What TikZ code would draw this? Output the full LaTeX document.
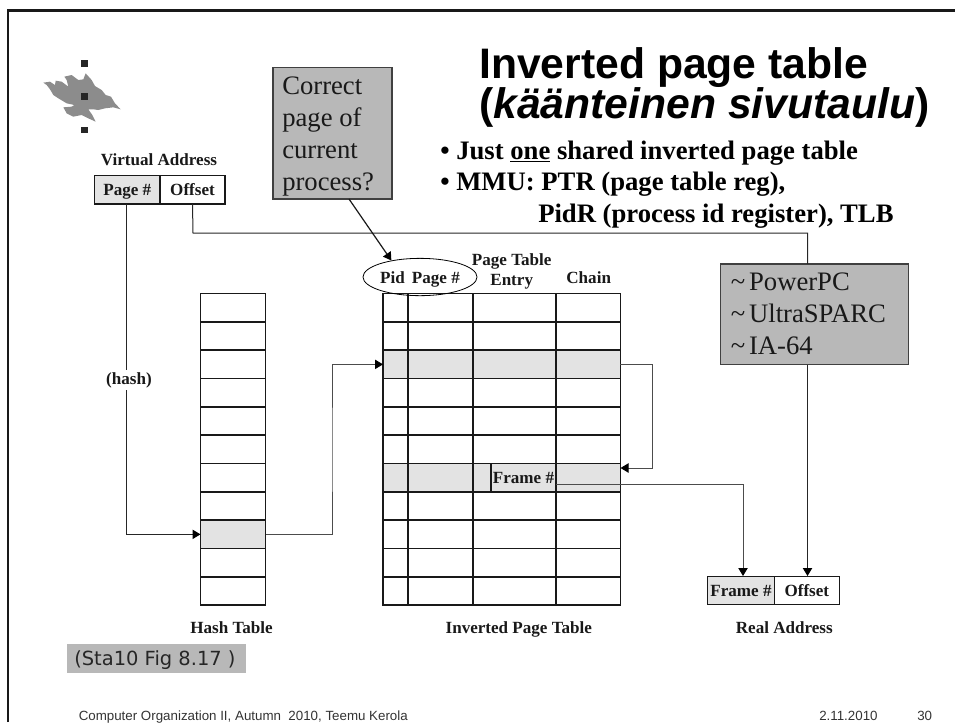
\documentclass[tikz,border=0pt]{standalone}
\usepackage{fontspec}
\setmainfont{Liberation Serif}
\newfontfamily\arialfont{Liberation Sans}
\newfontfamily\stafont{DejaVu Sans}
\usetikzlibrary{arrows.meta,shapes.geometric}
\definecolor{shade}{HTML}{E3E3E3}
\definecolor{notegray}{HTML}{B8B8B8}
\definecolor{logogray}{HTML}{8C8C8C}
\definecolor{logodark}{HTML}{262626}
\tikzset{
  tabline/.style={line width=1.2pt, black!90},
  cell/.style={draw, tabline, inner sep=0pt, outer sep=0pt, minimum height=21.25pt, text height=10pt, text depth=1pt},
  small/.style={font=\fontsize{12.8}{15}\selectfont\bfseries, inner sep=0pt, text=black!90},
  label/.style={small, anchor=base},
  bullet/.style={font=\fontsize{20}{24}\selectfont\bfseries, inner sep=0pt, anchor=base west},
  note/.style={draw=black!75, line width=1.1pt, fill=notegray, inner sep=0pt, outer sep=0pt},
  notetext/.style={font=\fontsize{20}{24}\selectfont, align=left, inner sep=0pt, anchor=base west, text=black!90},
  thinlink/.style={line width=0.75pt, black!85},
  greylink/.style={line width=0.75pt, black!70},
  tip/.style={-{Triangle[length=6pt,width=7pt,color=black]}},
  foot/.style={font=\arialfont\fontsize{10}{11}\selectfont, inner sep=0pt, anchor=base west, text=black!80},
}
\newcommand{\cpumark}{\textasciitilde\hspace{0.14em}}
\begin{document}
\begin{tikzpicture}[x=0.75pt,y=-0.75pt]
  \useasboundingbox (0,0) rectangle (955,722);

  % Slide frame
  \draw[line width=2pt, black!90] (8,722) -- (8,10.5) -- (955,10.5);

  % Logo
  \begin{scope}[shift={(35,50)},x=0.25pt,y=-0.25pt]
    \fill[logogray] (25,98) -- (45,95) -- (60,105) -- (62,92) -- (80,95) -- (100,110) -- (95,90)
      -- (88,80) -- (110,75) -- (130,90) -- (145,88) -- (152,70) -- (170,90) -- (180,108)
      -- (200,120) -- (212,135) -- (228,140) -- (240,160) -- (257,178) -- (235,172) -- (210,175)
      -- (190,180) -- (175,178) -- (160,178) -- (172,195) -- (182,215) -- (160,205) -- (140,195)
      -- (115,200) -- (95,190) -- (85,172) -- (110,170) -- (118,165) -- (95,160) -- (70,145)
      -- (55,135) -- (45,118) -- (35,105) -- cycle;
    \foreach \y in {40,140,240}
      \fill[logodark] (138,\y-10) rectangle (158,\y+10);
  \end{scope}

  % Title and bullets
  \node[font=\arialfont\fontsize{32}{36}\selectfont\bfseries, inner sep=0pt, anchor=base west] (title1) at (479,78) {Inverted page table};
  \node[font=\arialfont\fontsize{32}{36}\selectfont\bfseries, inner sep=0pt, anchor=base west] (title2) at (479,118) {(\textit{k\"a\"anteinen sivutaulu})};
  \node[bullet] (line1) at (440,159) {\textbullet\ Just \underline{one} shared inverted page table};
  \node[bullet] (line2) at (440,190.5) {\textbullet\ MMU: PTR (page table reg),};
  \node[bullet] (line3) at (538,222.5) {PidR (process id register), TLB};

  % Virtual address
  \node[label] (virtual) at (159,165) {Virtual Address};
  \node[cell, small, fill=shade, minimum width=49.1pt] (page) at (127.3,189.75) {Page \#};
  \node[cell, small, minimum width=48.75pt] (offset) at (192.5,189.75) {Offset};

  % Hash table
  \foreach \i/\c in {0/white,1/white,2/white,3/white,4/white,5/white,6/white,7/white,8/shade,9/white,10/white}
    \node[cell, fill=\c, minimum width=48.75pt] (hash\i) at (233,307.7+\i*28.33) {};
  \node[label] (hashlabel) at (231.5,633) {Hash Table};

  % Inverted page table
  \foreach \i/\c in {0/white,1/white,2/shade,3/white,4/white,5/white,6/shade,7/white,8/white,9/white,10/white}
    \node[cell, fill=\c, minimum width=178.1pt] (row\i) at (501.75,307.7+\i*28.33) {};
  \foreach \x in {408,473,556}
    \draw[tabline] (\x,293.5) -- (\x,605);
  \node[small, minimum width=48.75pt, minimum height=21.25pt, text height=10pt, text depth=1pt] (frame) at (523.5,477.7) {Frame \#};
  \draw[tabline] (frame.north west) -- (frame.south west);

  \node[label] (ptentry) at (511.7,265) {Page Table};
  \node[label] (entry) at (511.7,285) {Entry};
  \node[label] (chain) at (588.7,283) {Chain};
  \node[draw, ellipse, small, line width=0.6pt, minimum width=85.5pt, minimum height=28pt, text height=10pt, text depth=1pt] (pid) at (420,277) {Pid \,Page \#};
  \node[label] (iptlabel) at (518.8,633.5) {Inverted Page Table};

  % Real address
  \node[cell, small, fill=shade, minimum width=50pt] (realframe) at (741,590.5) {Frame \#};
  \node[cell, small, minimum width=48.75pt] (realoffset) at (806.8,590.5) {Offset};
  \node[label] (reallabel) at (784.3,633.5) {Real Address};

  % Notes
  \node[note, minimum width=89.25pt, minimum height=98.5pt] (correct) at (332.5,133.25) {};
  \node[notetext] (correcttext) at (282,190) {Correct\\page of\\current\\process?};
  \node[note, minimum width=140.7pt, minimum height=75.4pt] (cpus) at (814.5,314.25) {};
  \node[notetext] (cpustext) at (730.7,354) {\cpumark PowerPC\\\cpumark UltraSPARC\\\cpumark IA-64};
  \node[fill=notegray, minimum width=134.25pt, minimum height=21.5pt, inner sep=0pt] (stallings) at (156.5,658.3) {};
  \node[font=\stafont\fontsize{14.6}{16}\selectfont, inner sep=0pt, anchor=base west, text=black!85] (statext) at (74,665) {(Sta10 Fig 8.17 )};

  % Connectors
  \coordinate (hashbend) at (126,400);
  \coordinate (outbend) at (332,450);
  \coordinate (chainbend) at (652,420);
  \coordinate (chainin) at (620.5,468);
  \coordinate (frameout) at (556,484.5);
  \coordinate (correctout) at (349,199);
  \coordinate (offsetbend) at (193,233);
  \coordinate (cpustop) at (807.5,233);
  \coordinate (cpusbot) at (807.5,364.5);
  \coordinate (realin) at (807.5,576);
  \coordinate (framein) at (743,576);

  \draw[thinlink, tip] (page.south -| hashbend) |- (hash8.west);
  \node[label, fill=white, inner ysep=2pt] (hashnote) at (129,384) {(hash)};
  \draw[thinlink] (offset.south) -- (offsetbend) -- (cpustop) -- (cpustop |- cpus.north);
  \draw[thinlink, tip] (cpusbot) -- (realin);
  \draw[line width=0.9pt, black!90, tip] (correctout) -- (pid.150);
  \draw[greylink, tip] (hash8.east) -| (outbend) |- (row2.west);
  \draw[greylink, tip] (row2.east) -| (chainbend) |- (chainin);
  \draw[greylink, tip] (frameout) -| (framein);

  % Footer
  \node[foot] (footer) at (78.5,720) {Computer Organization II, Autumn\ \ 2010, Teemu Kerola};
  \node[foot] (date) at (819,720) {2.11.2010};
  \node[foot] (pageno) at (917,720) {30};
\end{tikzpicture}
\end{document}
